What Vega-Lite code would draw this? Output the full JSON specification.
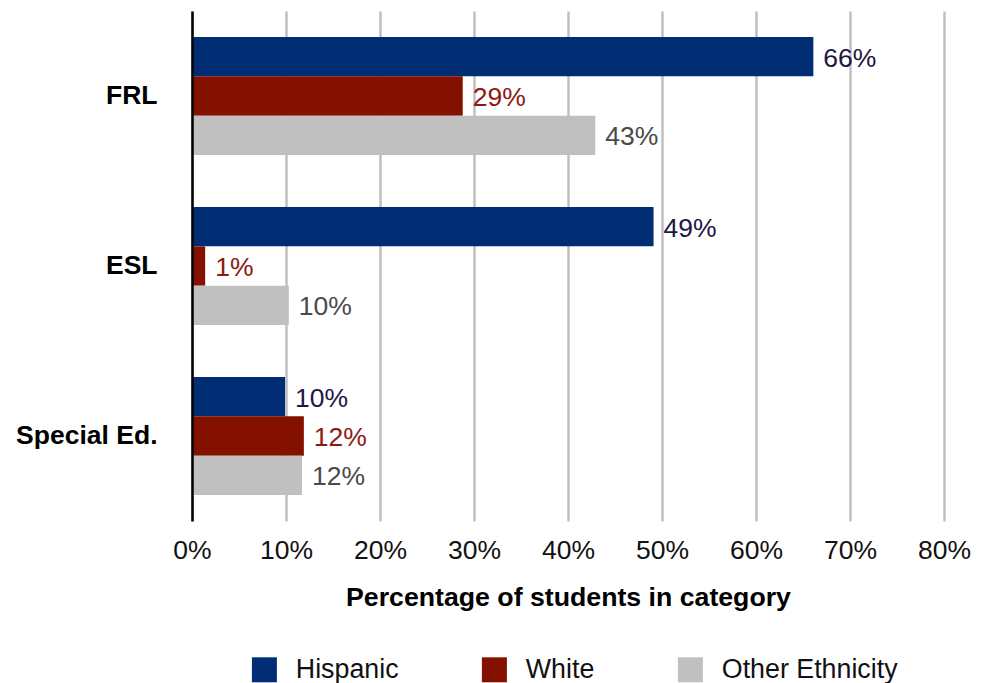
{
  "$schema": "https://vega.github.io/schema/vega-lite/v6.json",
  "width": 752,
  "height": 510,
  "autosize": {"type": "none"},
  "padding": {"left": 192, "top": 11, "right": 44, "bottom": 162},
  "config": {"font": "Liberation Sans", "view": {"stroke": null}},
  "data": {
    "values": [
      {"category": "FRL", "group": "Hispanic", "value": 0.661},
      {"category": "FRL", "group": "White", "value": 0.288},
      {"category": "FRL", "group": "Other Ethnicity", "value": 0.429},
      {"category": "ESL", "group": "Hispanic", "value": 0.491},
      {"category": "ESL", "group": "White", "value": 0.014},
      {"category": "ESL", "group": "Other Ethnicity", "value": 0.103},
      {"category": "Special Ed.", "group": "Hispanic", "value": 0.099},
      {"category": "Special Ed.", "group": "White", "value": 0.119},
      {"category": "Special Ed.", "group": "Other Ethnicity", "value": 0.117}
    ]
  },
  "encoding": {
    "y": {
      "field": "category",
      "type": "nominal",
      "sort": ["FRL", "ESL", "Special Ed."],
      "scale": {"paddingInner": 0.306, "paddingOuter": 0.153},
      "axis": {
        "title": null,
        "labelFontSize": 26.5,
        "labelFontWeight": "bold",
        "labelColor": "#000000",
        "ticks": false,
        "labelPadding": 35,
        "domainColor": "#000000",
        "domainWidth": 2.5,
        "grid": false,
        "zindex": 1
      }
    },
    "yOffset": {
      "field": "group",
      "type": "nominal",
      "sort": ["Hispanic", "White", "Other Ethnicity"],
      "scale": {"paddingInner": 0, "paddingOuter": 0}
    },
    "x": {
      "field": "value",
      "type": "quantitative",
      "scale": {"domain": [0, 0.8], "nice": false},
      "axis": {
        "title": "Percentage of students in category",
        "titleFontSize": 26.7,
        "titleFontWeight": "bold",
        "titleColor": "#000000",
        "titlePadding": 21,
        "format": ".0%",
        "values": [0, 0.1, 0.2, 0.3, 0.4, 0.5, 0.6, 0.7, 0.8],
        "labelFontSize": 26.5,
        "labelColor": "#111111",
        "labelPadding": 16,
        "labelFlush": false,
        "ticks": false,
        "domain": false,
        "grid": true,
        "gridColor": "#bfbfbf",
        "gridWidth": 2.5
      }
    }
  },
  "layer": [
    {
      "mark": {"type": "bar"},
      "encoding": {
        "color": {
          "field": "group",
          "type": "nominal",
          "scale": {
            "domain": ["Hispanic", "White", "Other Ethnicity"],
            "range": ["#002d74", "#841100", "#c0c0c0"]
          },
          "legend": {
            "title": null,
            "orient": "none",
            "direction": "horizontal",
            "legendX": 59,
            "legendY": 645,
            "symbolType": "square",
            "symbolSize": 625,
            "symbolStrokeWidth": 0,
            "symbolOpacity": 1,
            "labelFontSize": 26.8,
            "labelColor": "#111111",
            "labelOffset": 18,
            "labelLimit": 400,
            "columnPadding": 82
          }
        }
      }
    },
    {
      "mark": {"type": "text", "align": "left", "baseline": "middle", "dx": 10, "dy": 2, "fontSize": 26.5},
      "encoding": {
        "text": {"field": "value", "type": "quantitative", "format": ".0%"},
        "color": {
          "field": "group",
          "type": "nominal",
          "scale": {
            "domain": ["Hispanic", "White", "Other Ethnicity"],
            "range": ["#1e1646", "#8b1a10", "#4a4a4a"]
          },
          "legend": null
        }
      }
    }
  ],
  "resolve": {"scale": {"color": "independent"}}
}
